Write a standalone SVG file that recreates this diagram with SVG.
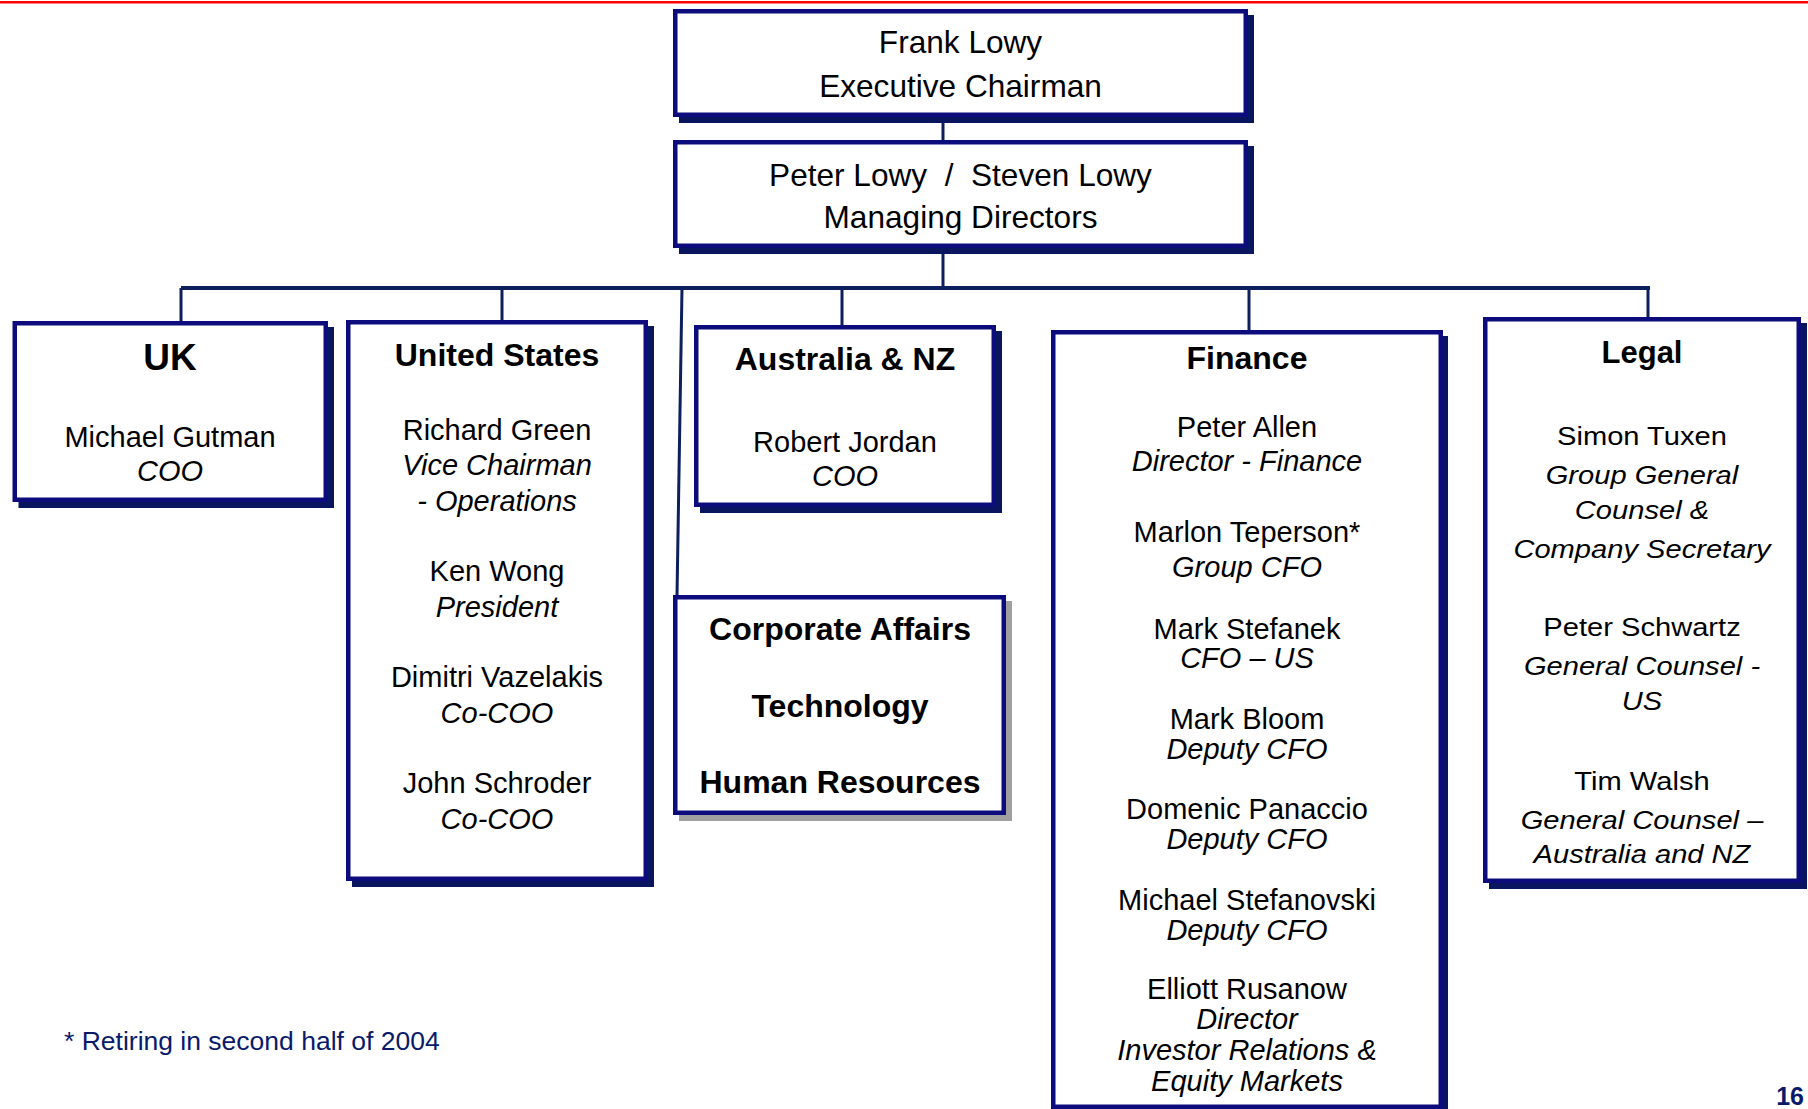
<svg xmlns="http://www.w3.org/2000/svg" width="1808" height="1109" viewBox="0 0 1808 1109">
<style>
.box{fill:#fff;stroke:#0c0c7c;stroke-width:4.5}
.sh{fill:#0a1560}
.shg{fill:#a0a0a0}
.con{stroke:#0e1f5e;stroke-width:3;fill:none}
text{font-family:"Liberation Sans",Arial,sans-serif;fill:#000;text-anchor:middle}
.t{font-size:31.6px}
.b{font-size:29px}
.i{font-size:29px;font-style:italic}
.h{font-size:32px;font-weight:bold}
.lg{font-size:26px}
.lgi{font-size:26px;font-style:italic}
.note{font-size:26.5px;fill:#0a1a6b;text-anchor:start}
.pg{font-size:25px;font-weight:bold;fill:#0a1a6b;text-anchor:end}
</style>
<rect x="0" y="1" width="1808" height="2.5" fill="#ff0000"/>
<g id="connectors">
<line class="con" x1="943" y1="117" x2="943" y2="140"/>
<line class="con" x1="943" y1="248" x2="943" y2="288"/>
<line x1="181" y1="288" x2="1650" y2="288" stroke="#0e1f5e" stroke-width="4"/>
<line class="con" x1="181" y1="288" x2="181" y2="321"/>
<line class="con" x1="502" y1="288" x2="502" y2="320"/>
<line class="con" x1="682" y1="288" x2="677" y2="596"/>
<line class="con" x1="842" y1="288" x2="842" y2="325"/>
<line class="con" x1="1249" y1="288" x2="1249" y2="330"/>
<line class="con" x1="1648" y1="288" x2="1648" y2="317"/>
</g>
<g id="chairman">
<rect class="sh" x="679" y="15" width="575" height="108"/>
<rect class="box" x="675.25" y="11.25" width="570.5" height="103.5"/>
<text class="t" x="960.5" y="53">Frank Lowy</text>
<text class="t" x="960.5" y="97">Executive Chairman</text>
</g>
<g id="managing">
<rect class="sh" x="679" y="146" width="575" height="108"/>
<rect class="box" x="675.25" y="142.25" width="570.5" height="103.5"/>
<text class="t" x="960.5" y="186">Peter Lowy&#160;&#160;/&#160;&#160;Steven Lowy</text>
<text class="t" x="960.5" y="228">Managing Directors</text>
</g>
<g id="uk">
<rect class="sh" x="18.5" y="327" width="315.5" height="181"/>
<rect class="box" x="14.75" y="323.25" width="311" height="176.5"/>
<text x="170" y="370" style="font-size:37px;font-weight:bold">UK</text>
<text class="b" x="170" y="447">Michael Gutman</text>
<text class="i" x="170" y="481">COO</text>
</g>
<g id="us">
<rect class="sh" x="352" y="326" width="302" height="561"/>
<rect class="box" x="348.25" y="322.25" width="297.5" height="556.5"/>
<text class="h" x="497" y="366">United States</text>
<text class="b" x="497" y="440">Richard Green</text>
<text class="i" x="497" y="475">Vice Chairman</text>
<text class="i" x="497" y="511">- Operations</text>
<text class="b" x="497" y="581">Ken Wong</text>
<text class="i" x="497" y="617">President</text>
<text class="b" x="497" y="687">Dimitri Vazelakis</text>
<text class="i" x="497" y="723">Co-COO</text>
<text class="b" x="497" y="793">John Schroder</text>
<text class="i" x="497" y="829">Co-COO</text>
</g>
<g id="australia">
<rect class="sh" x="700" y="331" width="302" height="182"/>
<rect class="box" x="696.25" y="327.25" width="297.5" height="177.5"/>
<text class="h" x="845" y="370">Australia &amp; NZ</text>
<text class="b" x="845" y="452">Robert Jordan</text>
<text class="i" x="845" y="486">COO</text>
</g>
<g id="corporate">
<rect class="shg" x="679" y="601" width="333" height="220"/>
<rect class="box" x="675.25" y="597.25" width="328.5" height="215.5"/>
<text class="h" x="840" y="640">Corporate Affairs</text>
<text class="h" x="840" y="717">Technology</text>
<text class="h" x="840" y="793">Human Resources</text>
</g>
<g id="finance">
<rect class="sh" x="1057" y="336" width="391" height="780"/>
<rect class="box" x="1053.25" y="332.25" width="387.5" height="774.5"/>
<text class="h" x="1247" y="369">Finance</text>
<text class="b" x="1247" y="437">Peter Allen</text>
<text class="i" x="1247" y="471">Director - Finance</text>
<text class="b" x="1247" y="542">Marlon Teperson*</text>
<text class="i" x="1247" y="577">Group CFO</text>
<text class="b" x="1247" y="639">Mark Stefanek</text>
<text class="i" x="1247" y="668">CFO – US</text>
<text class="b" x="1247" y="729">Mark Bloom</text>
<text class="i" x="1247" y="759">Deputy CFO</text>
<text class="b" x="1247" y="819">Domenic Panaccio</text>
<text class="i" x="1247" y="849">Deputy CFO</text>
<text class="b" x="1247" y="910">Michael Stefanovski</text>
<text class="i" x="1247" y="940">Deputy CFO</text>
<text class="b" x="1247" y="999">Elliott Rusanow</text>
<text class="i" x="1247" y="1029">Director</text>
<text class="i" x="1247" y="1060">Investor Relations &amp;</text>
<text class="i" x="1247" y="1091">Equity Markets</text>
</g>
<g id="legal">
<rect class="sh" x="1489" y="323" width="318" height="566"/>
<rect class="box" x="1485.25" y="319.25" width="313.5" height="561.5"/>
<text x="1642" y="363" style="font-size:31px;font-weight:bold">Legal</text>
<g transform="translate(1642,0) scale(1.12,1)">
<text class="lg" x="0" y="445">Simon Tuxen</text>
<text class="lgi" x="0" y="484">Group General</text>
<text class="lgi" x="0" y="519">Counsel &amp;</text>
<text class="lgi" x="0" y="558">Company Secretary</text>
<text class="lg" x="0" y="636">Peter Schwartz</text>
<text class="lgi" x="0" y="675">General Counsel -</text>
<text class="lgi" x="0" y="710">US</text>
<text class="lg" x="0" y="790">Tim Walsh</text>
<text class="lgi" x="0" y="829">General Counsel –</text>
<text class="lgi" x="0" y="863">Australia and NZ</text>
</g>
</g>
<text class="note" x="64" y="1050">* Retiring in second half of 2004</text>
<text class="pg" x="1804" y="1105">16</text>
</svg>
